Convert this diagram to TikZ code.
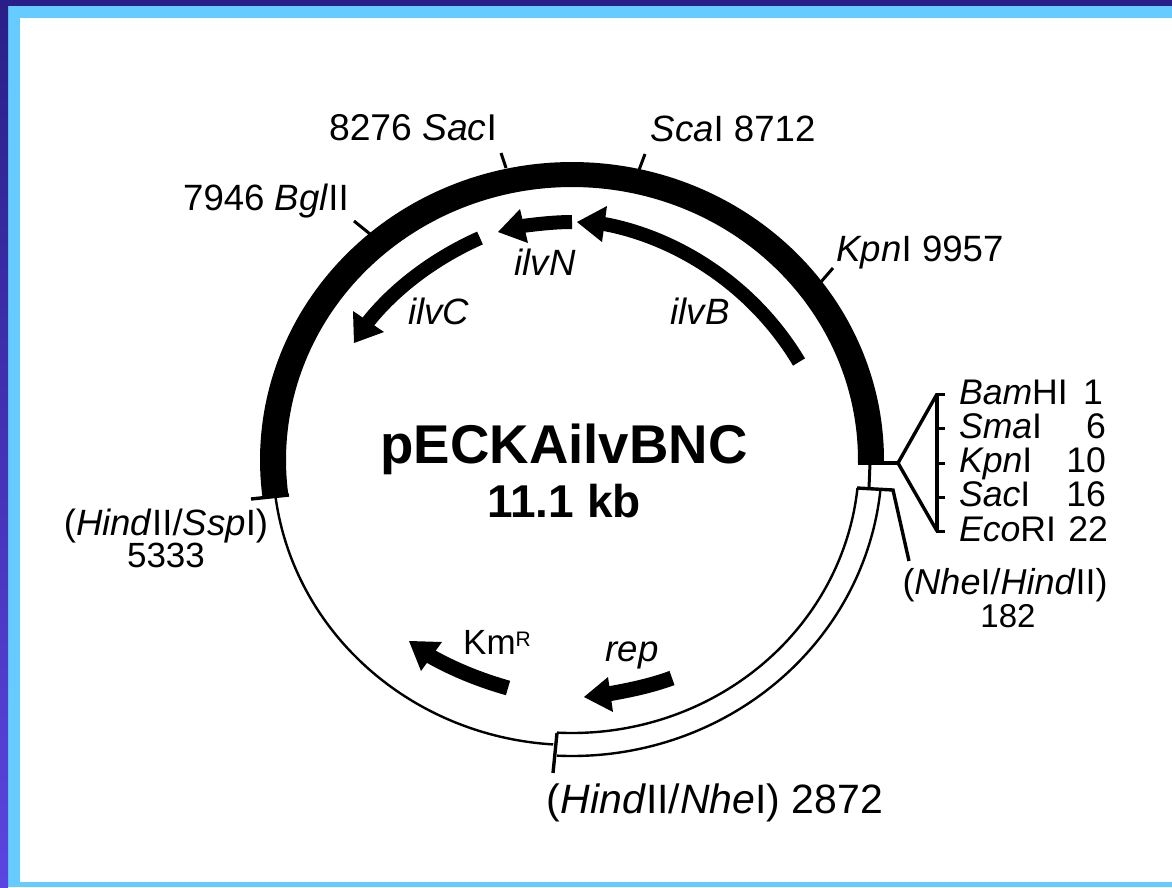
\documentclass[tikz,border=0pt]{standalone}
\usepackage{fontspec}
\setmainfont{Liberation Sans}
\definecolor{frameblue}{HTML}{66CCFF}
\definecolor{darktop}{HTML}{2A1F88}
\definecolor{darkbot}{HTML}{5B45E0}
\newcommand{\ringarc}[4]{plot[domain=#3:#4,samples=140] ({572+#1*cos(\x)},{460-#2*sin(\x)})}
\newcommand{\fs}[1]{\fontsize{#1}{#1}\selectfont}
\newcommand{\ii}[1]{\textit{#1}}
\tikzset{
  lab/.style={inner sep=0pt,outer sep=0pt,anchor=base,font=\fs{36.6}},
  mcs/.style={lab,font=\fs{35.6},anchor=base west},
  num/.style={lab,font=\fs{35.6},anchor=base east},
  tick/.style={line width=3pt,line cap=butt},
  fan/.style={line width=3.4pt,line cap=butt,line join=miter},
  thin/.style={line width=2.4pt},
  shaft/.style={line width=14pt,line cap=butt},
}
\begin{document}
\begin{tikzpicture}[x=1pt,y=-1pt]
\useasboundingbox (0,0) rectangle (1172,887);
% frame
\fill[white] (0,0) rectangle (1172,887);
\fill[frameblue] (8,6) rectangle (1172,18);
\fill[frameblue] (8,6) rectangle (20,887);
\fill[frameblue] (8,882) rectangle (1172,887);
\fill[darktop] (0,0) rectangle (1172,6);
\shade[top color=darktop,bottom color=darkbot] (0,0) rectangle (8,887);
% thick ring
\fill[black] plot[domain=-0.6:187.2,samples=140] ({572+312*cos(\x)},{460-298*sin(\x)}) -- plot[domain=187.2:-0.6,samples=140] ({572+286*cos(\x)},{460-273*sin(\x)}) -- cycle;
% thin ring
\draw[thin] \ringarc{299}{285}{187}{266.4};
% white band
\draw[thin] \ringarc{287}{273}{267}{354.1};
\draw[thin] \ringarc{310}{296}{267.2}{354.2};
% ticks
\coordinate (sacA) at (501,153); \coordinate (sacB) at (506,168);
\coordinate (scaA) at (645,154); \coordinate (scaB) at (639,170);
\coordinate (bglA) at (354,221); \coordinate (bglB) at (370,234);
\coordinate (kpnA) at (833,268); \coordinate (kpnB) at (820,283);
\draw[tick] (sacA) -- (sacB);
\draw[tick] (scaA) -- (scaB);
\draw[tick] (bglA) -- (bglB);
\draw[tick] (kpnA) -- (kpnB);
\coordinate (hsA) at (251,499); \coordinate (hsB) at (289,495);
\draw[line width=3.4pt] (hsA) -- (hsB);
\coordinate (hnA) at (557,733); \coordinate (hnB) at (553,773);
\draw[line width=3.4pt] (hnA) -- (hnB);
% MCS fan
\coordinate (st0) at (858,463); \coordinate (st1) at (898,463);
\coordinate (ftop) at (937,394); \coordinate (fbot) at (937,531);
\draw[fan] (st0) -- (st1);
\draw[fan] (ftop) -- (st1) -- (fbot);
\draw[fan] (ftop) -- (fbot);
\foreach \n/\yy in {t1/394,t2/428,t3/463,t4/497,t5/531}{
  \coordinate (\n a) at (936,\yy); \coordinate (\n b) at (945,\yy);
  \draw[line width=3pt] (\n a) -- (\n b);
}
% NheI/HindII connectors
\coordinate (cA) at (870,463); \coordinate (cB) at (869,488);
\draw[line width=3pt] (cA) -- (cB);
\coordinate (bA) at (857,488); \coordinate (bB) at (893,490); \coordinate (bC) at (909,561);
\draw[line width=3.4pt,line join=miter] (bA) -- (bB) -- (bC);
% gene arrows
\coordinate (ilvBs) at (799,362); \coordinate (ilvBe) at (604,224);
\draw[shaft] (ilvBs) .. controls (750,280) and (670,236) .. (ilvBe);
\fill (577,222) -- (607,206) -- (602,242) -- cycle;
\coordinate (ilvNs) at (572,222); \coordinate (ilvNe) at (522,226);
\draw[shaft] (ilvNs) .. controls (555,222) and (538,224) .. (ilvNe);
\fill (498,232) -- (520,209) -- (528,243) -- cycle;
\coordinate (ilvCs) at (480,238); \coordinate (ilvCe) at (368,322);
\draw[shaft] (ilvCs) .. controls (435,258) and (395,288) .. (ilvCe);
\fill (354,343) -- (353,311) -- (384,332) -- cycle;
\coordinate (kms) at (508,688); \coordinate (kme) at (430,656);
\draw[line width=15pt] (kms) .. controls (480,680) and (455,670) .. (kme);
\fill (409,641) -- (442,642) -- (421,671) -- cycle;
\coordinate (reps) at (672,678); \coordinate (repe) at (608,694);
\draw[line width=15pt] (reps) .. controls (650,686) and (630,690) .. (repe);
\fill (584,697) -- (608,677) -- (613,712) -- cycle;
% labels
\node[lab,font=\fs{37.3}] (sac) at (413,140) {8276 \ii{Sac}I};
\node[lab] (sca) at (733,141) {\ii{Sca}I 8712};
\node[lab] (bgl) at (266,210) {7946 \ii{Bgl}II};
\node[lab] (kpn) at (920,261) {\ii{Kpn}I 9957};
\node[lab] (ilvN) at (545,275) {\ii{ilvN}};
\node[lab] (ilvC) at (439,324) {\ii{ilvC}};
\node[lab] (ilvB) at (700,324) {\ii{ilvB}};
\node[lab,font=\bfseries\fs{54.6}] (title) at (564,463) {pECKAilvBNC};
\node[lab,font=\bfseries\fs{46}] (size) at (564,517) {11.1 kb};
\node[lab] (hs) at (166,535) {(\ii{Hind}II/\ii{Ssp}I)};
\node[lab,font=\fs{35}] (hsn) at (166,567) {5333};
\node[mcs] (m1) at (959,404) {\ii{Bam}HI};
\node[mcs] (m2) at (959,438) {\ii{Sma}I};
\node[mcs] (m3) at (959,472) {\ii{Kpn}I};
\node[mcs] (m4) at (959,506) {\ii{Sac}I};
\node[mcs] (m5) at (959,541) {\ii{Eco}RI};
\node[num] (n1) at (1103,404) {1};
\node[num] (n2) at (1106,438) {6};
\node[num] (n3) at (1106,472) {10};
\node[num] (n4) at (1106,506) {16};
\node[num] (n5) at (1108,541) {22};
\node[lab,font=\fs{36}] (nh) at (1005,594) {(\ii{Nhe}I/\ii{Hind}II)};
\node[lab,font=\fs{33}] (nhn) at (1008,627) {182};
\node[lab,font=\fs{41}] (hn) at (715,813) {(\ii{Hind}II/\ii{Nhe}I) 2872};
\node[lab,font=\fs{35}] (km) at (497,654) {Km\raisebox{8pt}{\fs{21}R}};
\node[lab] (rep) at (632,661) {\ii{rep}};
\end{tikzpicture}
\end{document}
